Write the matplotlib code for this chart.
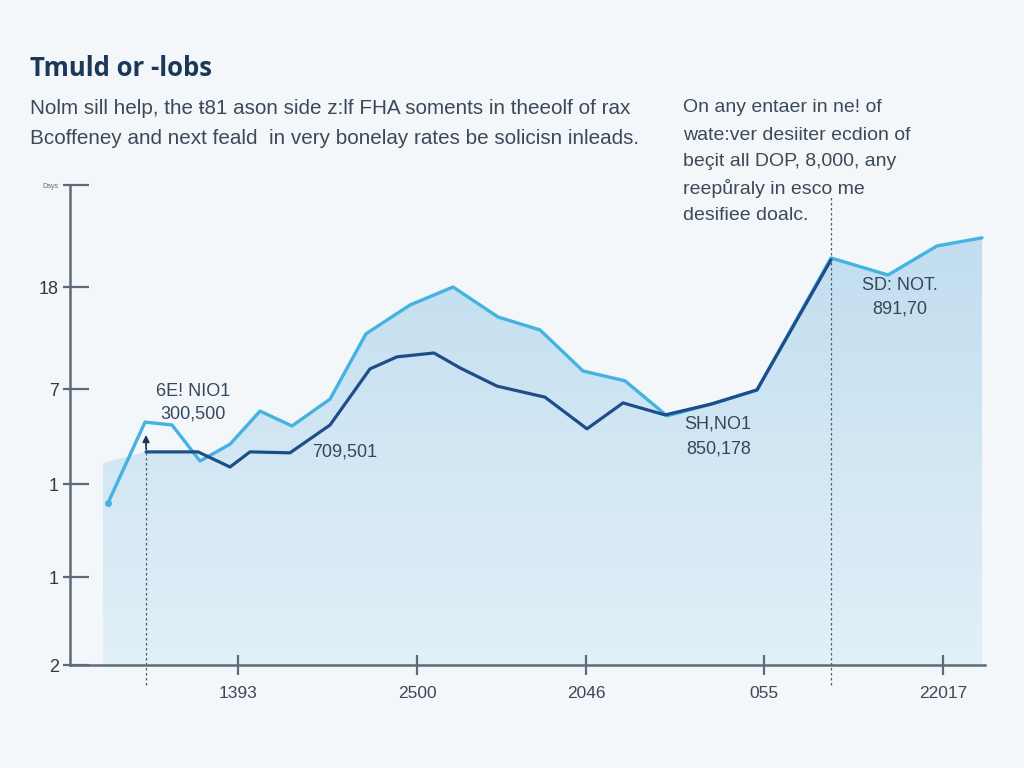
import matplotlib
matplotlib.use("Agg")
import matplotlib.pyplot as plt
import numpy as np
from matplotlib.colors import LinearSegmentedColormap
from matplotlib.ticker import FixedLocator

plt.rcParams['font.family'] = ['Liberation Sans', 'DejaVu Sans']

# ---------------- data ----------------
light_x = [0.415, 0.820, 1.115, 1.421, 1.749, 2.077, 2.426, 2.842, 3.235, 3.716, 4.186,
           4.678, 5.137, 5.607, 6.066, 6.525, 7.016, 7.508, 8.317, 8.940, 9.475, 9.967]
light_y = [33.75, 50.6, 50.0, 42.5, 46.0, 52.9, 49.8, 55.4, 69.0, 75.0, 78.75,
           72.5, 69.8, 61.25, 59.2, 51.9, 54.4, 57.3, 84.8, 81.25, 87.3, 89.0]

dark_x = [0.831, 1.399, 1.749, 1.967, 2.404, 2.842, 3.279, 3.574, 3.978, 4.262, 4.667,
          5.191, 5.650, 6.044, 6.503, 7.016, 7.508, 8.317]
dark_y = [44.4, 44.4, 41.25, 44.4, 44.2, 50.0, 61.7, 64.2, 65.0, 61.9, 58.1,
          55.8, 49.2, 54.6, 52.1, 54.4, 57.3, 84.4]

area_x = [0.36, 0.831, 1.399] + light_x[3:]
area_y = [42.1, 44.4, 44.4] + light_y[3:]

xtick_pos = [1.836, 3.792, 5.639, 7.585, 9.541]
xtick_labels = ["1393", "2500", "2046", "055", "22017"]
ytick_pos = [0, 18.3, 37.7, 57.5, 78.75, 100]
ytick_labels = ["2", "1", "1", "7", "18", "Days"]

marker_lines = [0.831, 8.317]

annotations = [
    (1.344, 56.9, "6E! NIO1"), (1.344, 52.3, "300,500"),
    (3.005, 44.4, "709,501"),
    (7.08, 50.2, "SH,NO1"), (7.09, 45.0, "850,178"),
    (9.07, 79.0, "SD: NOT."), (9.07, 74.2, "891,70"),
]

title = "Tmuld or -lobs"
subtitle = ["Nolm sill help, the ŧ81 ason side z:lf FHA soments in theeolf of rax",
            "Bcoffeney and next feald  in very bonelay rates be solicisn inleads."]
side_note = ["On any entaer in ne! of", "wate:ver desiiter ecdion of",
             "beçit all DOP, 8,000, any", "reepůraly in esco me", "desifiee doalc."]

# ---------------- figure ----------------
W, H = 1024, 768
bg = "#f4f7f9"
fig = plt.figure(figsize=(W / 100, H / 100), dpi=100, facecolor=bg)
ax = fig.add_axes([70 / W, (768 - 665) / H, 915 / W, 480 / H])
ax.set_facecolor("none")
ax.set_xlim(0, 10)
ax.set_ylim(0, 100)

# gradient area
poly = ax.fill_between(area_x, area_y, 0, color="none", lw=0)
cmap = LinearSegmentedColormap.from_list("g", ["#e2f0f8", "#c0ddef"])
grad = np.linspace(0, 1, 256).reshape(-1, 1)
im = ax.imshow(grad, cmap=cmap, extent=[0, 10, 0, 92], origin="lower",
               aspect="auto", zorder=1)
path = poly.get_paths()[0]
im.set_clip_path(path, transform=ax.transData)

# lines
ax.plot(light_x, light_y, color="#45b3e2", lw=2.4, zorder=3,
        solid_joinstyle="round", solid_capstyle="round")
ax.plot(light_x[0], light_y[0], "o", color="#45b3e2", ms=4, zorder=3)
ax.plot(dark_x, dark_y, color="#1d4e8a", lw=2.3, zorder=4,
        solid_joinstyle="round", solid_capstyle="round")

# dashed marker lines
ax.plot([marker_lines[0]] * 2, [-4.2, 46.5], ls=(0, (2, 2)), color="#4f5d6b",
        lw=0.9, clip_on=False, zorder=2)
ax.plot([marker_lines[1]] * 2, [-4.2, 97.9], ls=(0, (2, 2)), color="#4f5d6b",
        lw=0.9, clip_on=False, zorder=2)
ax.annotate("", xy=(marker_lines[0], 48.5), xytext=(marker_lines[0], 44.4),
            arrowprops=dict(arrowstyle="-|>", color="#1d3550", lw=1.2,
                            mutation_scale=10), zorder=5)

# annotations
for x, y, t in annotations:
    ax.text(x, y, t, ha="center", va="center", fontsize=13, color="#34485c",
            zorder=6)

# axes styling
for s in ["top", "right"]:
    ax.spines[s].set_visible(False)
for s in ["left", "bottom"]:
    ax.spines[s].set_color("#5c6b7a")
    ax.spines[s].set_linewidth(1.8)
ax.set_xticks(xtick_pos)
ax.set_xticklabels(xtick_labels, fontsize=12.5, color="#3a4858")
ax.set_yticks(ytick_pos)
ax.set_yticklabels(ytick_labels, fontsize=13, color="#2e3a46")
ax.yaxis.remove_overlapping_locs = False
ax.yaxis.set_minor_locator(FixedLocator(ytick_pos))
ax.tick_params(axis="x", direction="inout", length=14, width=1.6,
               color="#5c6b7a", pad=8)
ax.tick_params(axis="y", which="major", direction="in", length=14, width=1.6,
               color="#5c6b7a", pad=8)
ax.tick_params(axis="y", which="minor", direction="out", length=5, width=1.6,
               color="#5c6b7a")
ytl = ax.get_yticklabels()
ytl[-1].set_fontsize(5)
ytl[-1].set_color("#5c6b7a")

# text
fig.text(30 / W, 1 - 68 / H, title, fontsize=18.5, fontweight="bold",
         color="#1b3858", family=["Open Sans", "DejaVu Sans"], va="center")
for i, line in enumerate(subtitle):
    fig.text(30 / W, 1 - (108 + 30 * i) / H, line, fontsize=14.9,
             color="#3a4a5a", va="center")
for i, line in enumerate(side_note):
    fig.text(683 / W, 1 - (108 + 27 * i) / H, line, fontsize=14.0,
             color="#3a4a5a", va="center")

fig.savefig("out.png", dpi=100, facecolor=bg)
